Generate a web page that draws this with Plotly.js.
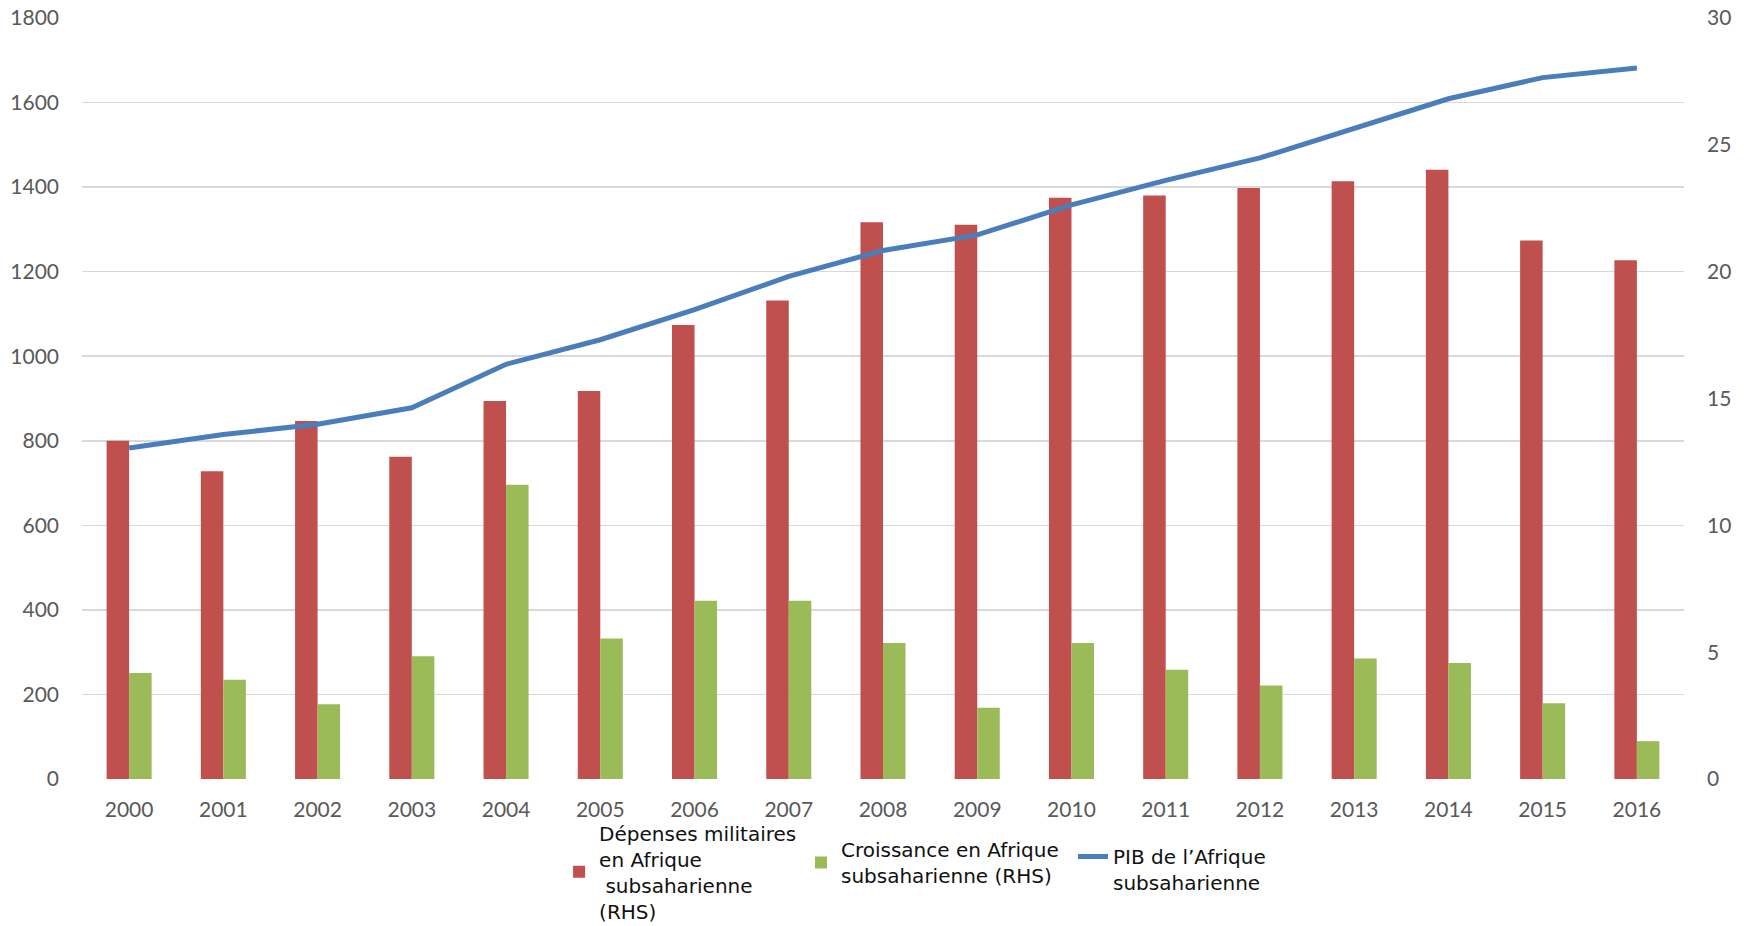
<!DOCTYPE html>
<html>
<head>
<meta charset="utf-8">
<script src="https://cdn.plot.ly/plotly-3.0.1.min.js"></script>
<style>html,body{margin:0;padding:0;background:#fff;}#chart{width:1748px;height:926px;}</style>
</head>
<body>
<div id="chart"></div>
<script>
const years = ["2000","2001","2002","2003","2004","2005","2006","2007","2008","2009","2010","2011","2012","2013","2014","2015","2016"];
const depensesMilitaires = [800, 728, 847, 762, 894, 918, 1074, 1132, 1317, 1311, 1375, 1380, 1398, 1414, 1441, 1274, 1227];
const croissance = [4.18, 3.91, 2.95, 4.84, 11.6, 5.54, 7.03, 7.03, 5.36, 2.81, 5.36, 4.31, 3.69, 4.75, 4.57, 2.99, 1.49];
const pib = [783, 815, 839, 878, 981, 1039, 1110, 1189, 1250, 1287, 1358, 1416, 1469, 1538, 1609, 1659, 1682];
const leftTicks = [0, 200, 400, 600, 800, 1000, 1200, 1400, 1600, 1800];
const rightTicks = [0, 5, 10, 15, 20, 25, 30];

const FONT = "Lato, 'Open Sans', sans-serif";
const LEGFONT = {family: "'DejaVu Sans', Verdana, sans-serif", size: 20, color: "#111"};
const GREY = "#595959";

const traces = [
  {
    type: "bar", x: years, y: depensesMilitaires, yaxis: "y", legend: "legend",
    name: "Dépenses militaires<br>en Afrique<br> subsaharienne<br>(RHS)",
    marker: {color: "#c0504d"}, offset: -0.239, width: 0.239
  },
  {
    type: "bar", x: years, y: croissance, yaxis: "y2", legend: "legend2",
    name: "Croissance en Afrique<br>subsaharienne (RHS)",
    marker: {color: "#9bbb59"}, offset: 0, width: 0.239
  },
  {
    type: "scatter", mode: "lines", x: years, y: pib, yaxis: "y", legend: "legend3",
    name: "PIB de l’Afrique<br>subsaharienne",
    line: {color: "#4a7ebb", width: 5}
  }
];

const legBase = {orientation: "v", xanchor: "left", yanchor: "top", font: LEGFONT,
                 bgcolor: "rgba(0,0,0,0)", itemclick: false};

const layout = {
  width: 1748, height: 926,
  margin: {l: 82, r: 64, t: 18, b: 147, autoexpand: false},
  paper_bgcolor: "#fff", plot_bgcolor: "#fff",
  font: {family: FONT, size: 21, color: GREY},
  barmode: "overlay",
  showlegend: true,
  legend: Object.assign({}, legBase, {x: 0.2978, y: -0.045, valign: "middle"}),
  legend2: Object.assign({}, legBase, {x: 0.4488, y: -0.0670, valign: "middle"}),
  legend3: Object.assign({}, legBase, {x: 0.6186, y: -0.0762, valign: "top"}),
  xaxis: {
    type: "category", showgrid: false, zeroline: false, showline: false,
    ticks: "", tickfont: {family: FONT, size: 21, color: GREY}, ticklabelstandoff: 16
  },
  yaxis: {
    range: [0, 1800], tickvals: leftTicks, showgrid: true, gridcolor: "#d9d9d9", gridwidth: 1.5,
    zeroline: false, showline: false, ticks: "", ticklabelstandoff: 22,
    tickfont: {family: FONT, size: 21, color: GREY}
  },
  yaxis2: {
    range: [0, 30], tickvals: rightTicks, overlaying: "y", side: "right", showgrid: false,
    zeroline: false, showline: false, ticks: "", ticklabelstandoff: 22,
    tickfont: {family: FONT, size: 21, color: GREY}
  }
};

Plotly.newPlot("chart", traces, layout, {displayModeBar: false, staticPlot: true});
</script>
</body>
</html>
